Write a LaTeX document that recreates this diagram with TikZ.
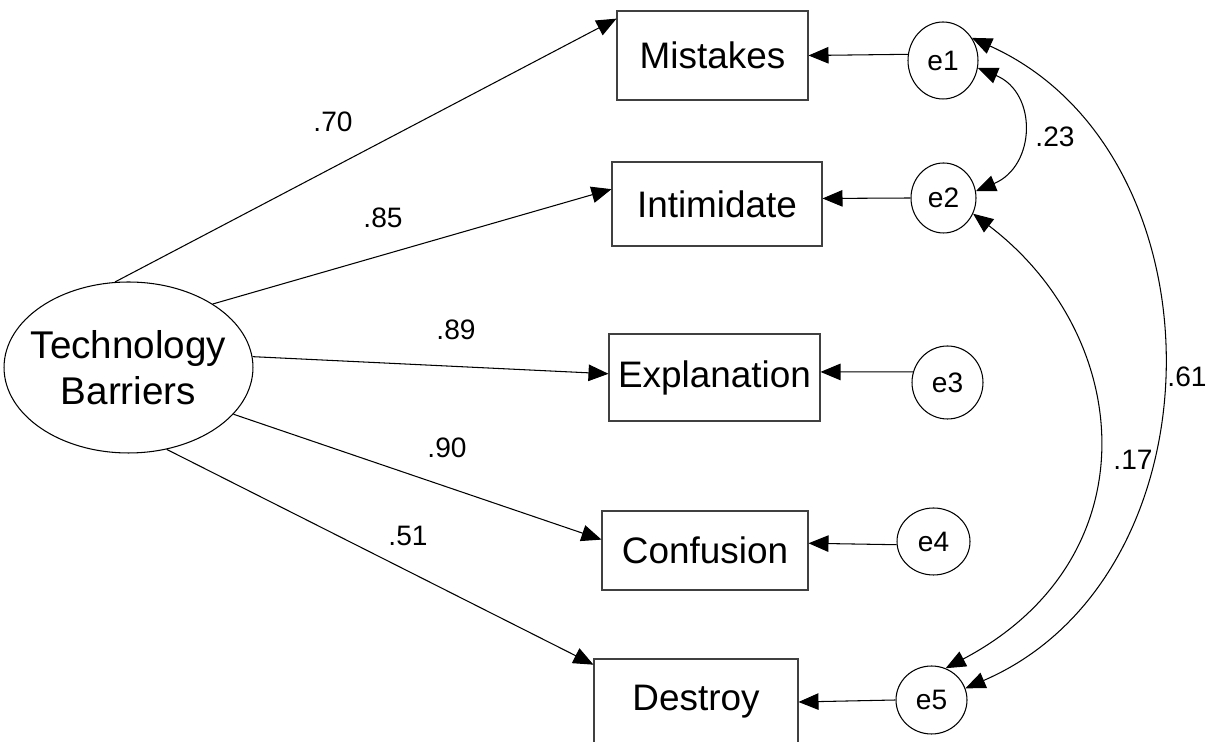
\documentclass[tikz,border=0pt]{standalone}
\usepackage{fontspec}
\setmainfont{Liberation Sans}
\usepackage{tikz}
\usetikzlibrary{shapes.geometric,arrows.meta,positioning}

\begin{document}
\begin{tikzpicture}[
    x=0.02cm, y=-0.02cm,
    obs/.style={rectangle, draw=black!75, line width=0.6pt, inner sep=0pt, font=\fontsize{21}{25}\selectfont},
    lat/.style={ellipse, draw, line width=0.6pt, inner xsep=-0.4cm, inner ysep=-0.1cm, align=center, font=\fontsize{22}{26}\selectfont},
    err/.style={ellipse, draw, line width=0.6pt, inner sep=0pt, font=\fontsize{16}{19}\selectfont},
    load/.style={-{Triangle[length=0.4cm,width=0.33cm]}, line width=0.6pt},
    cov/.style={{Triangle[length=0.4cm,width=0.33cm]}-{Triangle[length=0.4cm,width=0.33cm]}, line width=0.6pt},
    lbl/.style={font=\fontsize{16}{19}\selectfont, inner sep=0pt}
]
\useasboundingbox (0,0) rectangle (1228,742);
% ----- latent factor -----
\node[lat, minimum width=4.98cm, minimum height=3.42cm] (tb) at (128.5,367.5) {Technology\\Barriers};
% ----- observed items -----
\node[obs, minimum width=3.82cm, minimum height=1.78cm] (mis) at (712.5,55.5) {Mistakes};
\node[obs, minimum width=4.2cm, minimum height=1.68cm]  (int) at (717,204) {Intimidate};
\node[obs, minimum width=4.22cm, minimum height=1.74cm] (exp) at (714.5,377.5) {Explanation};
\node[obs, minimum width=4.12cm, minimum height=1.58cm] (con) at (705,550.5) {Confusion};
\node[obs, minimum width=4.08cm, minimum height=1.72cm] (des) at (696,702) {Destroy};
% ----- error terms -----
\node[err, minimum width=1.4cm, minimum height=1.54cm]  (e1) at (943,60.5) {e1};
\node[err, minimum width=1.3cm, minimum height=1.4cm]   (e2) at (943.5,198) {e2};
\node[err, minimum width=1.42cm, minimum height=1.46cm] (e3) at (947.5,382.5) {e3};
\node[err, minimum width=1.46cm, minimum height=1.34cm] (e4) at (933.5,541.5) {e4};
\node[err, minimum width=1.42cm, minimum height=1.36cm] (e5) at (931.5,700) {e5};
% ----- loadings -----
\foreach \s/\t in {tb.99/mis.159, tb.37/int.172, tb.5/exp.178, tb.-24/con.174, tb.-65/des.160}
  \draw[load] (\s) -- (\t);
\node[lbl] (l1) at (333,122) {.70};
\node[lbl] (l2) at (383,218) {.85};
\node[lbl] (l3) at (456,330) {.89};
\node[lbl] (l4) at (447,448) {.90};
\node[lbl] (l5) at (408,536) {.51};
% ----- error paths -----
\draw[load] (e1.170) -- (mis.east);
\draw[load] (e2.west) -- (int.3);
\draw[load] (e3.163) -- (exp.3);
\draw[load] (e4.185) -- (con.4);
\draw[load] (e5.west) -- (des.east);
% ----- covariances -----
\draw[cov] (e1.-12) .. controls +(60,25) and +(60,-25) .. (e2.12);
\draw[cov] (e1.38) .. controls +(255,115) and +(260,-112) .. (e5.19);
\draw[cov] (e2.-28) .. controls +(162,123) and +(207,-109) .. (e5.66);
\node[lbl] (c12) at (1055,137) {.23};
\node[lbl] (c15) at (1187,377) {.61};
\node[lbl] (c25) at (1133,460) {.17};
\end{tikzpicture}
\end{document}
